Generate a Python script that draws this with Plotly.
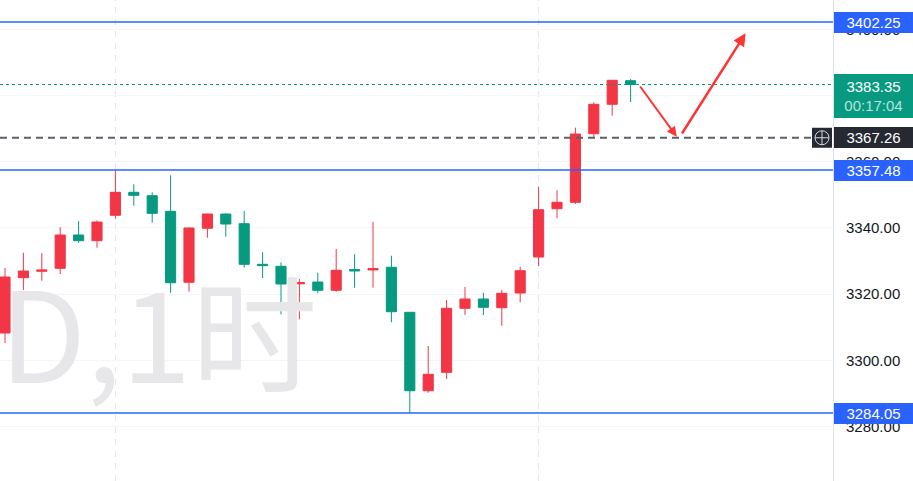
import plotly.graph_objects as go

# ---- data (1-hour candles) ----
bars = list(range(35))
opens = [3308.24, 3324.95, 3326.90, 3327.79, 3337.86, 3336.14, 3343.82, 3350.77, 3349.74, 3345.02,
         3323.56, 3339.89, 3344.21, 3341.28, 3329.00, 3328.40, 3323.10, 3323.65, 3321.14, 3327.40,
         3327.30, 3328.10, 3314.49, 3290.79, 3296.35, 3315.70, 3318.51, 3315.88, 3320.33, 3331.21,
         3345.81, 3347.75, 3368.48, 3377.37, 3384.51]
highs = [3327.88, 3332.51, 3332.42, 3340.19, 3342.09, 3342.30, 3357.40, 3353.19, 3350.77, 3355.91,
         3340.28, 3344.30, 3344.40, 3345.12, 3332.63, 3329.61, 3324.56, 3326.46, 3333.63, 3332.03,
         3341.88, 3331.60, 3314.60, 3304.31, 3318.21, 3322.14, 3320.42, 3321.23, 3328.28, 3352.46,
         3351.37, 3370.30, 3377.98, 3384.70, 3385.02]
lows = [3305.21, 3321.23, 3324.05, 3326.07, 3335.53, 3334.02, 3342.79, 3346.72, 3341.58, 3320.42,
        3320.72, 3337.04, 3337.35, 3327.98, 3324.86, 3313.89, 3312.38, 3320.24, 3320.72, 3321.93,
        3321.93, 3311.47, 3284.05, 3290.19, 3294.33, 3313.68, 3313.68, 3310.44, 3317.52, 3328.49,
        3342.91, 3347.23, 3367.09, 3373.92, 3378.07]
closes = [3325.16, 3326.98, 3327.30, 3337.86, 3336.14, 3341.79, 3350.77, 3349.86, 3344.42, 3323.44,
          3339.98, 3344.21, 3341.19, 3329.00, 3328.60, 3323.05, 3323.50, 3321.14, 3327.19, 3327.00,
          3327.70, 3314.67, 3290.79, 3295.75, 3315.70, 3318.51, 3316.00, 3320.24, 3327.07, 3345.51,
          3347.75, 3368.39, 3377.37, 3384.63, 3383.35]

level_prices = [3402.25, 3357.48, 3284.05]          # blue horizontal levels
last_price = 3383.35
last_price_timer = "00:17:04"
cursor_price = 3367.26
day_breaks = [6, 29]                                 # session separators (bar index)
tick_prices = [3280, 3300, 3320, 3340, 3360, 3380, 3400]
tick_labels = ["%.2f" % p for p in tick_prices]

# hand-drawn forecast path (bar index, price)
path_x = [34.46, 36.51, 36.74, 40.25]
path_y = [3383.20, 3367.58, 3368.09, 3398.83]

watermark_text = "D,1时"
watermark_pos = (-0.3, 3302.5)

y_range = [3263.5, 3408.9]
x_range = [-0.272, 45.0]

UP = "#F23645"
DOWN = "#089981"
BLUE = "#2962FF"
FONT = "Liberation Sans"

fig = go.Figure()

# watermark (beneath candles)
fig.add_trace(go.Scatter(
    x=[watermark_pos[0]], y=[watermark_pos[1]], mode="text",
    text=[watermark_text], textposition="middle right",
    textfont=dict(family="Noto Sans CJK SC", size=126, color="#e7e7ea"),
    hoverinfo="skip", showlegend=False, cliponaxis=True))

fig.add_trace(go.Candlestick(
    x=bars, open=opens, high=highs, low=lows, close=closes,
    increasing=dict(line=dict(color=UP, width=1), fillcolor=UP),
    decreasing=dict(line=dict(color=DOWN, width=1), fillcolor=DOWN),
    whiskerwidth=0, showlegend=False))

shapes = []
for d in day_breaks:
    shapes.append(dict(type="line", xref="x", yref="paper", x0=d, x1=d, y0=0, y1=1,
                       line=dict(color="#e1e3ea", width=1, dash="6px,6px"), layer="below"))
for p in level_prices:
    shapes.append(dict(type="line", xref="paper", yref="y", x0=0, x1=1, y0=p, y1=p,
                       line=dict(color=BLUE, width=1.5)))
shapes.append(dict(type="line", xref="paper", yref="y", x0=0, x1=1, y0=last_price, y1=last_price,
                   line=dict(color=DOWN, width=1, dash="dot")))
shapes.append(dict(type="line", xref="paper", yref="y", x0=0, x1=0.975, y0=cursor_price, y1=cursor_price,
                   line=dict(color="#5d606b", width=2, dash="7px,5px")))
# crosshair icon box next to price scale
shapes.append(dict(type="rect", xref="paper", yref="y", xsizemode="pixel", ysizemode="pixel",
                   xanchor=1, yanchor=cursor_price, x0=-21, x1=-1, y0=-10, y1=10,
                   fillcolor="#262932", line=dict(width=0)))
shapes.append(dict(type="circle", xref="paper", yref="y", xsizemode="pixel", ysizemode="pixel",
                   xanchor=1, yanchor=cursor_price, x0=-18, x1=-4, y0=-7, y1=7,
                   line=dict(color="#d8d9de", width=1)))
shapes.append(dict(type="line", xref="paper", yref="y", xsizemode="pixel", ysizemode="pixel",
                   xanchor=1, yanchor=cursor_price, x0=-18, x1=-4, y0=0, y1=0,
                   line=dict(color="#d8d9de", width=1)))
shapes.append(dict(type="line", xref="paper", yref="y", xsizemode="pixel", ysizemode="pixel",
                   xanchor=1, yanchor=cursor_price, x0=-11, x1=-11, y0=-7, y1=7,
                   line=dict(color="#d8d9de", width=1)))

annotations = []
# forecast arrows
annotations.append(dict(x=path_x[1], y=path_y[1], ax=path_x[0], ay=path_y[0],
                        xref="x", yref="y", axref="x", ayref="y", text="", showarrow=True,
                        arrowhead=2, arrowsize=1, arrowwidth=2, arrowcolor="#ff3535"))
annotations.append(dict(x=path_x[3], y=path_y[3], ax=path_x[2], ay=path_y[2],
                        xref="x", yref="y", axref="x", ayref="y", text="", showarrow=True,
                        arrowhead=2, arrowsize=1, arrowwidth=2.5, arrowcolor="#ff3535"))

def price_label(p, bg, text=None, h=17, yanchor="middle", yshift=0):
    return dict(x=1, xref="paper", xanchor="left", xshift=1, y=p, yref="y", yanchor=yanchor,
                yshift=yshift, text=text if text else "%.2f" % p, showarrow=False,
                bgcolor=bg, borderpad=2, borderwidth=0, width=75, height=h, align="center",
                font=dict(family=FONT, size=15, color="#ffffff"))

for p in level_prices:
    annotations.append(price_label(p, BLUE))
annotations.append(price_label(cursor_price, "#262932"))
annotations.append(price_label(
    last_price, DOWN,
    text="%.2f<br><span style='color:#b5e3da'>%s</span>" % (last_price, last_price_timer),
    h=40, yanchor="top", yshift=10.5))

fig.update_layout(
    width=913, height=481,
    margin=dict(l=0, r=80, t=0, b=0),
    paper_bgcolor="#ffffff", plot_bgcolor="#ffffff",
    showlegend=False,
    boxgap=0.45, boxgroupgap=0,
    shapes=shapes, annotations=annotations,
    xaxis=dict(range=x_range, showticklabels=False, showgrid=False, zeroline=False,
               rangeslider=dict(visible=False), fixedrange=True),
    yaxis=dict(range=y_range, side="right", tickvals=tick_prices, ticktext=tick_labels,
               ticks="", ticklabelstandoff=9,
               tickfont=dict(family=FONT, size=15, color="#131722"),
               showgrid=True, gridcolor="#f6f6f8", zeroline=False,
               showline=True, linecolor="#e0e3eb", linewidth=1),
    font=dict(family=FONT),
)

fig.write_html("out.html", config={"displayModeBar": False},
               post_script="document.body.style.margin='0';document.body.style.overflow='hidden';")
